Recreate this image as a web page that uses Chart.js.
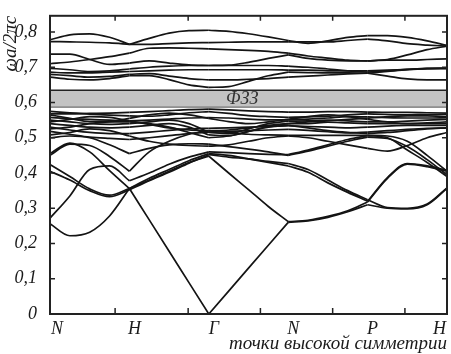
<!DOCTYPE html>
<html><head><meta charset="utf-8">
<script src="https://cdn.jsdelivr.net/npm/chart.js@4"></script>
<style>html,body{margin:0;padding:0;background:#fff}</style>
</head><body>
<canvas id="c" width="451" height="354"></canvas>
<script>
// ---- data ----
const symLabels = ['N', 'H', 'Γ', 'N', 'P', 'H'];
const symPositions = [0, 1, 2, 3, 4, 5];
const xTickMarks = [0.82, 1.74, 2.65, 3.56, 4.47];
const yTickValues = [0, 0.1, 0.2, 0.3, 0.4, 0.5, 0.6, 0.7, 0.8];
const gapEdges = [0.588, 0.635];
const gapLabel = 'ФЗЗ';
const xTitle = 'точки высокой симметрии';
const yTitle = 'ωa/2πc';
const kSamples = [0,0.25,0.5,0.75,1, 1.25,1.5,1.75,2, 2.25,2.5,2.75,3, 3.25,3.5,3.75,4, 4.25,4.5,4.75,5];

// lower bands
const band01 = [0.256,0.222,0.232,0.278,0.356, 0.267,0.178,0.089,0.000, 0.065,0.130,0.195,0.260, 0.264,0.274,0.290,0.310, 0.300,0.298,0.310,0.356];
const band02 = [0.424,0.390,0.355,0.337,0.356, 0.380,0.405,0.430,0.448, 0.400,0.353,0.305,0.262, 0.266,0.277,0.293,0.318, 0.385,0.425,0.418,0.405];
const band03 = [0.405,0.380,0.350,0.333,0.352, 0.378,0.402,0.428,0.452, 0.445,0.440,0.433,0.427, 0.410,0.380,0.350,0.324, 0.302,0.300,0.312,0.358];
const band04 = [0.272,0.335,0.410,0.420,0.378, 0.400,0.425,0.445,0.460, 0.458,0.455,0.453,0.452, 0.465,0.480,0.495,0.506, 0.500,0.465,0.430,0.390];
const band05 = [0.455,0.485,0.460,0.407,0.356, 0.385,0.410,0.435,0.455, 0.450,0.440,0.430,0.420, 0.402,0.372,0.345,0.320, 0.387,0.427,0.420,0.408];
const band06 = [0.450,0.482,0.478,0.447,0.405, 0.460,0.490,0.510,0.520, 0.515,0.510,0.508,0.507, 0.507,0.507,0.507,0.507, 0.505,0.490,0.450,0.405];
const band07 = [0.500,0.505,0.500,0.480,0.455, 0.470,0.480,0.483,0.482, 0.475,0.468,0.460,0.450, 0.462,0.476,0.490,0.502, 0.498,0.475,0.438,0.395];
// dense bands under the gap
const band08 = [0.568,0.568,0.569,0.570,0.572, 0.574,0.577,0.580,0.581, 0.579,0.576,0.574,0.573, 0.573,0.574,0.574,0.573, 0.572,0.572,0.571,0.570];
const band09 = [0.575,0.571,0.567,0.564,0.562, 0.561,0.565,0.571,0.574, 0.569,0.563,0.560,0.558, 0.559,0.561,0.565,0.568, 0.566,0.565,0.566,0.566];
const band10 = [0.558,0.554,0.552,0.550,0.548, 0.550,0.553,0.556,0.557, 0.556,0.553,0.551,0.551, 0.553,0.556,0.560,0.559, 0.557,0.556,0.556,0.557];
const band11 = [0.550,0.545,0.540,0.538,0.540, 0.545,0.550,0.540,0.515, 0.512,0.525,0.540,0.547, 0.548,0.550,0.548,0.545, 0.545,0.547,0.550,0.552];
const band12 = [0.540,0.535,0.530,0.528,0.530, 0.535,0.540,0.530,0.508, 0.506,0.518,0.532,0.540, 0.540,0.544,0.542,0.540, 0.540,0.540,0.542,0.545];
const band13 = [0.530,0.522,0.515,0.512,0.512, 0.516,0.521,0.525,0.527, 0.528,0.530,0.532,0.534, 0.532,0.530,0.528,0.530, 0.533,0.535,0.535,0.535];
const band14 = [0.518,0.510,0.502,0.498,0.495, 0.500,0.506,0.512,0.516, 0.518,0.520,0.522,0.524, 0.521,0.517,0.514,0.516, 0.520,0.524,0.527,0.528];
const band15 = [0.508,0.515,0.525,0.520,0.505, 0.490,0.482,0.478,0.476, 0.480,0.490,0.500,0.505, 0.500,0.490,0.480,0.470, 0.462,0.478,0.500,0.515];
const band16 = [0.565,0.555,0.546,0.546,0.555, 0.565,0.570,0.565,0.555, 0.546,0.540,0.545,0.552, 0.560,0.565,0.560,0.552, 0.545,0.540,0.540,0.540];
const band17 = [0.545,0.552,0.560,0.558,0.548, 0.538,0.528,0.522,0.520, 0.522,0.528,0.535,0.540, 0.545,0.548,0.552,0.555, 0.560,0.562,0.562,0.560];
const band18 = [0.525,0.530,0.540,0.545,0.545, 0.540,0.530,0.515,0.500, 0.505,0.518,0.530,0.535, 0.528,0.520,0.515,0.512, 0.515,0.520,0.525,0.528];
// bands above the gap
const band19 = [0.778,0.792,0.795,0.785,0.765, 0.782,0.797,0.804,0.805, 0.802,0.795,0.786,0.776, 0.768,0.775,0.785,0.790, 0.790,0.785,0.775,0.762];
const band20 = [0.773,0.772,0.771,0.769,0.765, 0.765,0.767,0.769,0.770, 0.771,0.772,0.772,0.772, 0.772,0.772,0.776,0.780, 0.775,0.767,0.763,0.760];
const band21 = [0.710,0.715,0.722,0.730,0.740, 0.754,0.755,0.754,0.752, 0.750,0.748,0.745,0.740, 0.732,0.726,0.720,0.718, 0.722,0.735,0.750,0.760];
const band22 = [0.737,0.737,0.722,0.708,0.712, 0.718,0.712,0.707,0.705, 0.706,0.714,0.725,0.735, 0.725,0.720,0.718,0.718, 0.720,0.720,0.722,0.724];
const band23 = [0.697,0.693,0.688,0.690,0.695, 0.700,0.703,0.705,0.705, 0.705,0.705,0.705,0.703, 0.700,0.695,0.690,0.686, 0.690,0.694,0.697,0.697];
const band24 = [0.686,0.684,0.684,0.686,0.688, 0.690,0.692,0.693,0.693, 0.693,0.693,0.693,0.692, 0.692,0.690,0.690,0.690, 0.692,0.694,0.696,0.697];
const band25 = [0.672,0.666,0.664,0.668,0.676, 0.676,0.665,0.650,0.643, 0.645,0.660,0.676,0.686, 0.685,0.684,0.684,0.683, 0.675,0.667,0.664,0.664];
const band26 = [0.680,0.676,0.672,0.674,0.680, 0.682,0.675,0.668,0.664, 0.664,0.666,0.668,0.672, 0.675,0.678,0.681,0.683, 0.688,0.693,0.696,0.697];

const bands = [band01,band02,band03,band04,band05,band06,band07,band08,band09,band10,band11,band12,band13,
  band14,band15,band16,band17,band18,band19,band20,band21,band22,band23,band24,band25,band26];

// ---- chart ----
const serif = "'Liberation Serif', 'DejaVu Serif', serif";
const datasets = [
  { data: [{x: 0, y: gapEdges[1]}, {x: 5, y: gapEdges[1]}], fill: '+1', backgroundColor: '#c3c3c3',
    borderColor: '#222', borderWidth: 1.5, pointRadius: 0 },
  { data: [{x: 0, y: gapEdges[0]}, {x: 5, y: gapEdges[0]}], fill: false,
    borderColor: '#222', borderWidth: 1.5, pointRadius: 0 }
];
// each band is split at the symmetry points so kinks there stay sharp
bands.forEach(b => {
  for (let s = 0; s < symPositions.length - 1; s++) {
    const pts = [];
    kSamples.forEach((k, i) => { if (k >= symPositions[s] && k <= symPositions[s + 1]) pts.push({x: k, y: b[i]}); });
    datasets.push({ data: pts, borderColor: '#141414', borderWidth: 1.7, pointRadius: 0, fill: false,
      cubicInterpolationMode: 'monotone' });
  }
});

const framePlugin = {
  id: 'frame',
  afterDraw(chart) {
    const {ctx, chartArea: a, scales: {x, y}} = chart;
    ctx.save();
    ctx.strokeStyle = '#222';
    ctx.lineWidth = 1.5;
    ctx.beginPath();
    yTickValues.forEach(v => {
      const py = y.getPixelForValue(v);
      ctx.moveTo(a.left, py); ctx.lineTo(a.left + 5, py);
      ctx.moveTo(a.right, py); ctx.lineTo(a.right - 5, py);
    });
    xTickMarks.forEach(u => {
      const px = x.getPixelForValue(u);
      ctx.moveTo(px, a.top); ctx.lineTo(px, a.top + 5);
      ctx.moveTo(px, a.bottom); ctx.lineTo(px, a.bottom - 6);
    });
    ctx.stroke();
    ctx.lineWidth = 2;
    ctx.strokeRect(a.left, a.top, a.right - a.left, a.bottom - a.top);
    ctx.fillStyle = '#1a1a1a';
    ctx.font = 'italic 18px ' + serif;
    ctx.textBaseline = 'middle';
    symLabels.forEach((t, i) => {
      const px = x.getPixelForValue(symPositions[i]);
      if (i === 0) { ctx.textAlign = 'left'; ctx.fillText(t, px + 1, 329); }
      else if (i === symLabels.length - 1) { ctx.textAlign = 'right'; ctx.fillText(t, px - 1, 329); }
      else { ctx.textAlign = 'center'; ctx.fillText(t, px + 5, 329); }
    });
    ctx.fillStyle = '#333';
    ctx.textAlign = 'center';
    ctx.fillText(gapLabel, x.getPixelForValue(2.42), y.getPixelForValue((gapEdges[0] + gapEdges[1]) / 2) + 1);
    ctx.restore();
  }
};

new Chart(document.getElementById('c'), {
  type: 'line',
  data: { datasets },
  options: {
    responsive: false, animation: false, devicePixelRatio: 1,
    layout: { padding: { left: 0, right: 4, top: 2, bottom: 0 } },
    plugins: { legend: { display: false }, tooltip: { enabled: false } },
    scales: {
      x: {
        type: 'linear', min: 0, max: 5,
        grid: { display: false }, border: { display: false },
        ticks: { display: false },
        afterFit: s => { s.height = 40; },
        title: { display: true, text: xTitle, align: 'end', color: '#1a1a1a',
          font: { family: serif, style: 'italic', size: 19 }, padding: { top: 0, bottom: -1 } }
      },
      y: {
        min: 0, max: 0.846,
        grid: { display: false }, border: { display: false },
        afterBuildTicks: s => { s.ticks = yTickValues.map(v => ({value: v})); },
        afterFit: s => { s.width = 50; },
        ticks: { padding: 5, color: '#1a1a1a', font: { family: serif, style: 'italic', size: 18 },
          callback: v => v === 0 ? '0' : v.toFixed(1).replace('.', ',') },
        title: { display: true, text: yTitle, align: 'end', color: '#1a1a1a',
          font: { family: serif, style: 'italic', size: 19 }, padding: { top: 0, bottom: 0 } }
      }
    }
  },
  plugins: [framePlugin]
});
</script>
</body></html>
